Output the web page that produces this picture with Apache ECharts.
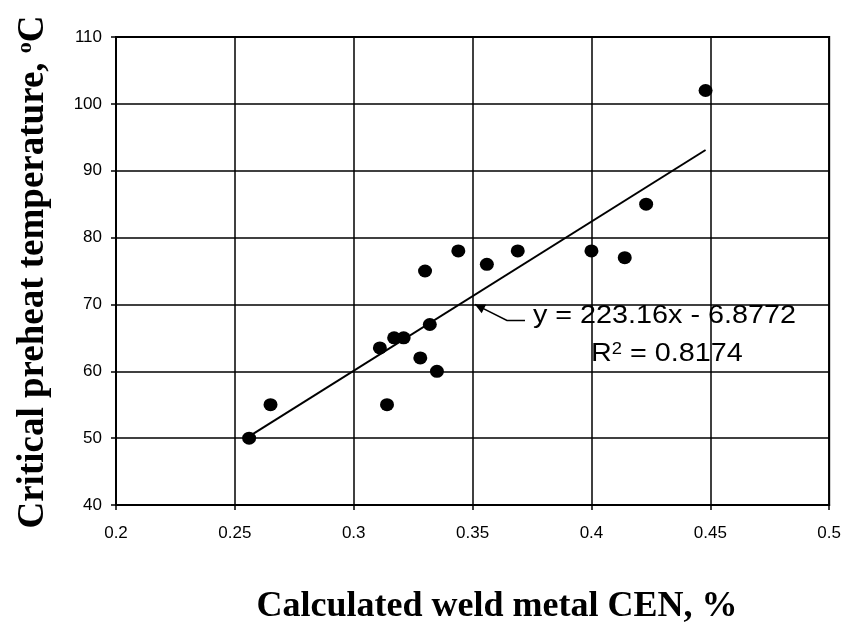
<!DOCTYPE html>
<html>
<head>
<meta charset="utf-8">
<script src="https://cdn.jsdelivr.net/npm/echarts@6/dist/echarts.min.js"></script>
<style>
html, body { margin: 0; padding: 0; background: #fff; }
#chart { width: 844px; height: 627px; }
</style>
</head>
<body>
<div id="chart"></div>
<script>
// measured points: weld metal CEN (%) vs critical preheat temperature (C)
var cen = [0.256, 0.265, 0.311, 0.314, 0.317, 0.321, 0.328, 0.330, 0.332, 0.335, 0.344, 0.356, 0.369, 0.400, 0.414, 0.423, 0.448];
var preheat = [50, 55, 63.5, 55, 65, 65, 62, 75, 67, 60, 78, 76, 78, 78, 77, 85, 102];

// linear trend from the chart's label
var slope = 223.16;
var intercept = -6.8772;
var rSquared = 0.8174;

// where the trend label's leader points
var labelAnchor = [0.351, 70];

var xTitle = 'Calculated weld metal CEN, %';
var yTitle = 'Critical preheat temperature, {sup|o}C';

var points = cen.map(function(x, i) { return [x, preheat[i]]; });
var xMin = Math.min.apply(null, cen), xMax = Math.max.apply(null, cen);
var trend = [[xMin, slope * xMin + intercept], [xMax, slope * xMax + intercept]];

var chart = echarts.init(document.getElementById('chart'));

var tickFont = { color: '#000', fontFamily: 'Liberation Sans, Arial', fontSize: 17 };
var titleFont = 'Liberation Serif, Times New Roman';
var eqFont = 'Liberation Sans, Arial';

chart.setOption({
	animation: false,
	backgroundColor: '#fff',
	grid: { left: 116, right: 14, top: 37, bottom: 122, show: true, borderColor: '#000', borderWidth: 2 },
	xAxis: {
		type: 'value', min: 0.2, max: 0.5, interval: 0.05,
		axisLine: { lineStyle: { color: '#000', width: 2 } },
		axisTick: { show: true, length: 5, lineStyle: { color: '#000', width: 1.5 } },
		axisLabel: Object.assign({ margin: 20 }, tickFont),
		splitLine: { show: true, lineStyle: { color: '#000', width: 1.5 } }
	},
	yAxis: {
		type: 'value', min: 40, max: 110, interval: 10,
		axisLine: { lineStyle: { color: '#000', width: 2 } },
		axisTick: { show: true, length: 5, lineStyle: { color: '#000', width: 1.5 } },
		axisLabel: Object.assign({ margin: 14 }, tickFont),
		splitLine: { show: true, lineStyle: { color: '#000', width: 1.5 } }
	},
	series: [
		{
			type: 'line', data: trend, symbol: 'none', silent: true,
			lineStyle: { color: '#000', width: 2 }, z: 3
		},
		{
			type: 'scatter', data: points, symbol: 'circle', symbolSize: [14, 13],
			itemStyle: { color: '#000', opacity: 1 }, z: 4
		}
	]
});

// trend label with leader line and arrow head
var tip = chart.convertToPixel({ gridIndex: 0 }, labelAnchor);
var elbow = [tip[0] + 32, tip[1] + 16];
var end = [elbow[0] + 18, elbow[1]];
var dx = tip[0] - elbow[0], dy = tip[1] - elbow[1];
var len = Math.sqrt(dx * dx + dy * dy);
dx /= len; dy /= len;
var head = [
	[tip[0], tip[1]],
	[tip[0] - dx * 10 - dy * 5, tip[1] - dy * 10 + dx * 5],
	[tip[0] - dx * 10 + dy * 5, tip[1] - dy * 10 - dx * 5]
];

chart.setOption({
	graphic: [
		{ type: 'polyline', shape: { points: [tip, elbow, end] }, style: { stroke: '#000', lineWidth: 1.5, fill: null }, z: 10 },
		{ type: 'polygon', shape: { points: head }, style: { fill: '#000' }, z: 10 },
		{
			type: 'text', x: end[0] + 8, y: end[1] - 4, scaleX: 1.15, z: 10,
			style: {
				text: 'y = ' + slope + 'x - ' + Math.abs(intercept),
				fill: '#000', font: '25px ' + eqFont, verticalAlign: 'middle'
			}
		},
		{
			type: 'text', x: end[0] + 66, y: end[1] + 34, scaleX: 1.15, z: 10,
			style: {
				text: 'R{sup|2} = ' + rSquared,
				fill: '#000', font: '25px ' + eqFont, verticalAlign: 'middle',
				rich: { sup: { fontSize: 16, fontFamily: eqFont, fill: '#000', verticalAlign: 'top', padding: [0, 0, 10, 0] } }
			}
		},
		// axis titles
		{
			type: 'text', x: 497, y: 607, z: 10,
			style: {
				text: xTitle, fill: '#000', font: 'bold 36px ' + titleFont,
				align: 'center', verticalAlign: 'middle'
			}
		},
		{
			type: 'text', x: 33, y: 272, rotation: Math.PI / 2, z: 10,
			style: {
				text: yTitle, fill: '#000', font: 'bold 37px ' + titleFont,
				align: 'center', verticalAlign: 'middle',
				rich: { sup: { fontSize: 22, fontWeight: 'bold', fontFamily: titleFont, fill: '#000', verticalAlign: 'top', padding: [0, 0, 14, 0] } }
			}
		}
	]
});
</script>
</body>
</html>
